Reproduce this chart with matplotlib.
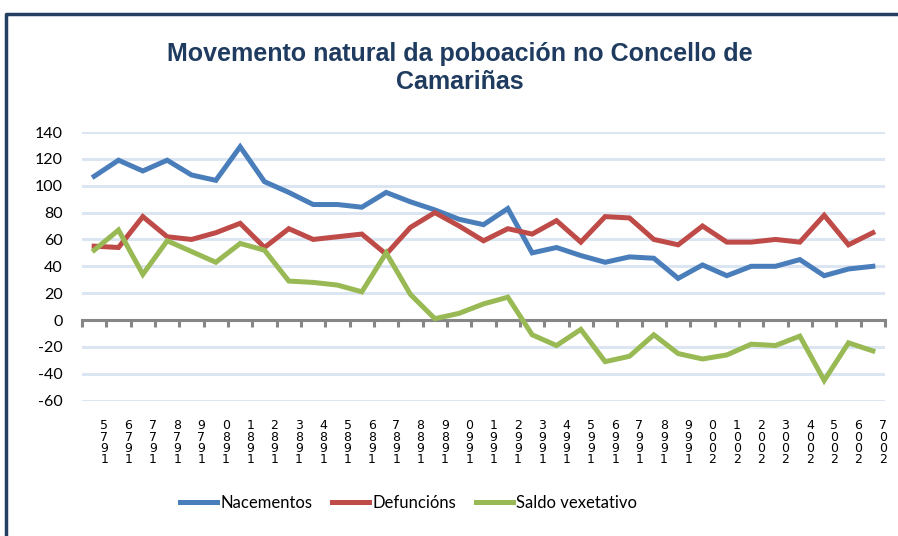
import matplotlib
matplotlib.use('Agg')
import matplotlib.pyplot as plt
from matplotlib.lines import Line2D
from matplotlib.transforms import blended_transform_factory, offset_copy

plt.rcParams['axes.unicode_minus'] = False

# Years on the x axis
years = list(range(1975, 2008))

# Series values
nacementos = [107, 119, 111, 119, 108, 104, 129, 103, 95, 86, 86, 84, 95,
              88, 82, 75, 71, 83, 50, 54, 48, 43, 47, 46, 31, 41,
              33, 40, 40, 45, 33, 38, 40]
defuncions = [55, 54, 77, 62, 60, 65, 72, 54, 68, 60, 62, 64, 49,
              69, 80, 70, 59, 68, 64, 74, 58, 77, 76, 60, 56, 70,
              58, 58, 60, 58, 78, 56, 65]
saldo = [52, 67, 34, 59, 51, 43, 57, 52, 29, 28, 26, 21, 50,
         19, 1, 5, 12, 17, -11, -19, -7, -31, -27, -11, -25, -29,
         -26, -18, -19, -12, -45, -17, -23]

series_names = ['Nacementos', 'Defuncións', 'Saldo vexetativo']
series_colors = ['#4A7EBB', '#BE4B48', '#98B954']

title = 'Movemento natural da poboación no Concello de\nCamariñas'

# Excel-style stacked labels: digits shown top to bottom in reverse order
tick_labels = ['\n'.join(reversed(str(y))) for y in years]

W, H = 898, 536
fig = plt.figure(figsize=(W / 100, H / 100), dpi=100)
ax = fig.add_axes([82 / W, 1 - 400.6 / H, (885 - 82) / W, (400.6 - 132) / H])

x = list(range(len(years)))
for vals, name, col in zip([nacementos, defuncions, saldo], series_names, series_colors):
    ax.plot(x, vals, color=col, lw=3.6, label=name, solid_joinstyle='miter', zorder=3)

ax.set_xlim(-0.5, len(years) - 0.5)
ax.set_ylim(-60, 140)
ax.set_yticks(range(-60, 141, 20))
ax.grid(axis='y', color='#DCE6F2', lw=2.2, zorder=0)
ax.set_axisbelow(True)
for s in ['top', 'right', 'left']:
    ax.spines[s].set_visible(False)
ax.spines['bottom'].set_position(('data', 0))
ax.spines['bottom'].set_color('#868686')
ax.spines['bottom'].set_linewidth(2.2)
ax.spines['bottom'].set_zorder(2)

ax.set_xticks([i - 0.5 for i in range(len(years) + 1)])
ax.set_xticklabels([])
ax.tick_params(axis='x', length=5, width=2.2, color='#868686', direction='out')
ax.tick_params(axis='y', length=0, pad=14, labelsize=11.5)
for lab in ax.get_yticklabels():
    lab.set_fontfamily('Lato')

trans = blended_transform_factory(ax.transData, ax.transAxes)
trans = offset_copy(trans, fig=fig, x=10, y=0, units='dots')
for i, lab in enumerate(tick_labels):
    ax.text(i, -0.07, lab, transform=trans, ha='center', va='top',
            fontsize=9, linespacing=0.82, family='DejaVu Sans', clip_on=False)

fig.text(0.512, 0.873, title, ha='center', va='center', fontsize=18,
         fontweight='bold', color='#1F3B5F', family='Liberation Sans',
         linespacing=1.2)

leg = fig.legend(loc='center', bbox_to_anchor=(0.455, 1 - 503 / H), ncol=3,
                 frameon=False, handlelength=2.2, handletextpad=0.2,
                 columnspacing=1.2, prop={'family': 'Lato', 'size': 12})

# dark frame around the chart area
fig.add_artist(Line2D([6 / W, 6 / W, 1.0], [0.0, 1 - 14 / H, 1 - 14 / H],
                      transform=fig.transFigure, color='#243F60', lw=2.5))

fig.savefig('out.png', dpi=100)
